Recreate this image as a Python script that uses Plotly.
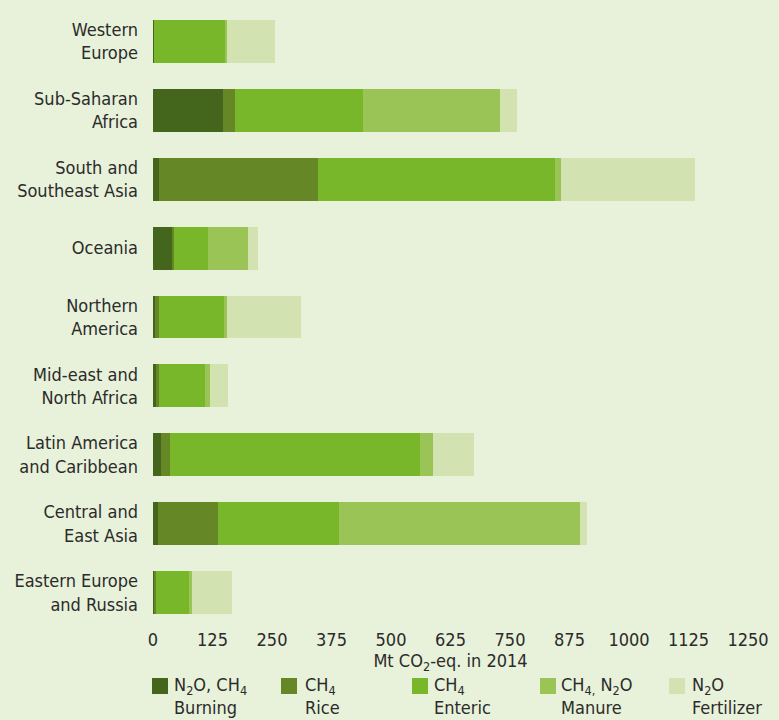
import plotly.graph_objects as go

regions = [
    "Western<br>Europe",
    "Sub-Saharan<br>Africa",
    "South and<br>Southeast Asia",
    "Oceania",
    "Northern<br>America",
    "Mid-east and<br>North Africa",
    "Latin America<br>and Caribbean",
    "Central and<br>East Asia",
    "Eastern Europe<br>and Russia",
]
burning = [3, 147, 13, 42, 5, 6, 17, 11, 4]
rice = [0, 26, 333, 2, 8, 6, 19, 126, 2]
enteric = [150, 269, 498, 72, 137, 97, 524, 254, 71]
manure = [2, 288, 14, 84, 6, 10, 29, 505, 4]
fertilizer = [101, 34, 281, 21, 154, 38, 86, 15, 86]

series_names = ["Burning", "Rice", "Enteric", "Manure", "Fertilizer"]
series_labels = [
    "N<sub>2</sub>O, CH<sub>4</sub><br>Burning",
    "CH<sub>4</sub><br>Rice",
    "CH<sub>4</sub><br>Enteric",
    "CH<sub>4,</sub> N<sub>2</sub>O<br>Manure",
    "N<sub>2</sub>O<br>Fertilizer",
]
series_values = [burning, rice, enteric, manure, fertilizer]
colors = ["#44651c", "#658726", "#78b72a", "#9bc457", "#d2e2b0"]

tick_vals = [0, 125, 250, 375, 500, 625, 750, 875, 1000, 1125, 1250]

BG = "#e8f1d9"
TXT = "#2b2b2b"
FONT = "DejaVu Sans Condensed, Roboto, sans-serif"

W, H = 779, 720
ML, MR, MT, MB = 153, 31, 7, 93
pw, ph = W - ML - MR, H - MT - MB


def px(x):
    return (x - ML) / pw


def py(y):
    return (H - MB - y) / ph


fig = go.Figure()
for name, vals, col in zip(series_names, series_values, colors):
    fig.add_trace(go.Bar(
        y=regions, x=vals, name=name, orientation="h",
        marker=dict(color=col, line=dict(width=0)),
        showlegend=False,
    ))

# manual legend
sq_x = [152, 281, 412, 540, 669]
txt_x = [173, 304, 433, 560, 691]
shapes = []
annotations = []
for sx, tx, col, lab in zip(sq_x, txt_x, colors, series_labels):
    shapes.append(dict(type="rect", xref="paper", yref="paper",
                       x0=px(sx), x1=px(sx + 16), y0=py(694), y1=py(678),
                       fillcolor=col, line=dict(width=0)))
    annotations.append(dict(xref="paper", yref="paper", x=px(tx), y=py(673),
                            xanchor="left", yanchor="top", align="left",
                            text=lab, showarrow=False, borderpad=0,
                            font=dict(size=18, color=TXT, family=FONT)))

fig.update_layout(
    width=W, height=H,
    barmode="stack", bargap=0.376,
    paper_bgcolor=BG, plot_bgcolor=BG,
    margin=dict(l=ML, r=MR, t=MT, b=MB, pad=0, autoexpand=False),
    font=dict(family=FONT, size=18, color=TXT),
    xaxis=dict(range=[0, 1250], tickvals=tick_vals, showgrid=False,
               zeroline=False, showline=False, ticks="", automargin=False,
               ticklabelstandoff=0,
               tickfont=dict(size=18, color=TXT),
               title=dict(text="Mt CO<sub>2</sub>-eq. in 2014", standoff=0,
                          font=dict(size=18, color=TXT))),
    yaxis=dict(categoryorder="array", categoryarray=regions,
               autorange="reversed", showgrid=False, zeroline=False,
               showline=False, ticks="", ticklabelstandoff=14,
               automargin=False,
               tickfont=dict(size=18, color=TXT)),
    shapes=shapes,
    annotations=annotations,
)

fig.write_html(
    "out.html",
    config={"displayModeBar": False},
    post_script=(
        "document.body.style.margin='0';"
        "document.body.style.padding='0';"
        "document.body.style.overflow='hidden';"
        "document.body.style.background='%s';" % BG
    ),
)
